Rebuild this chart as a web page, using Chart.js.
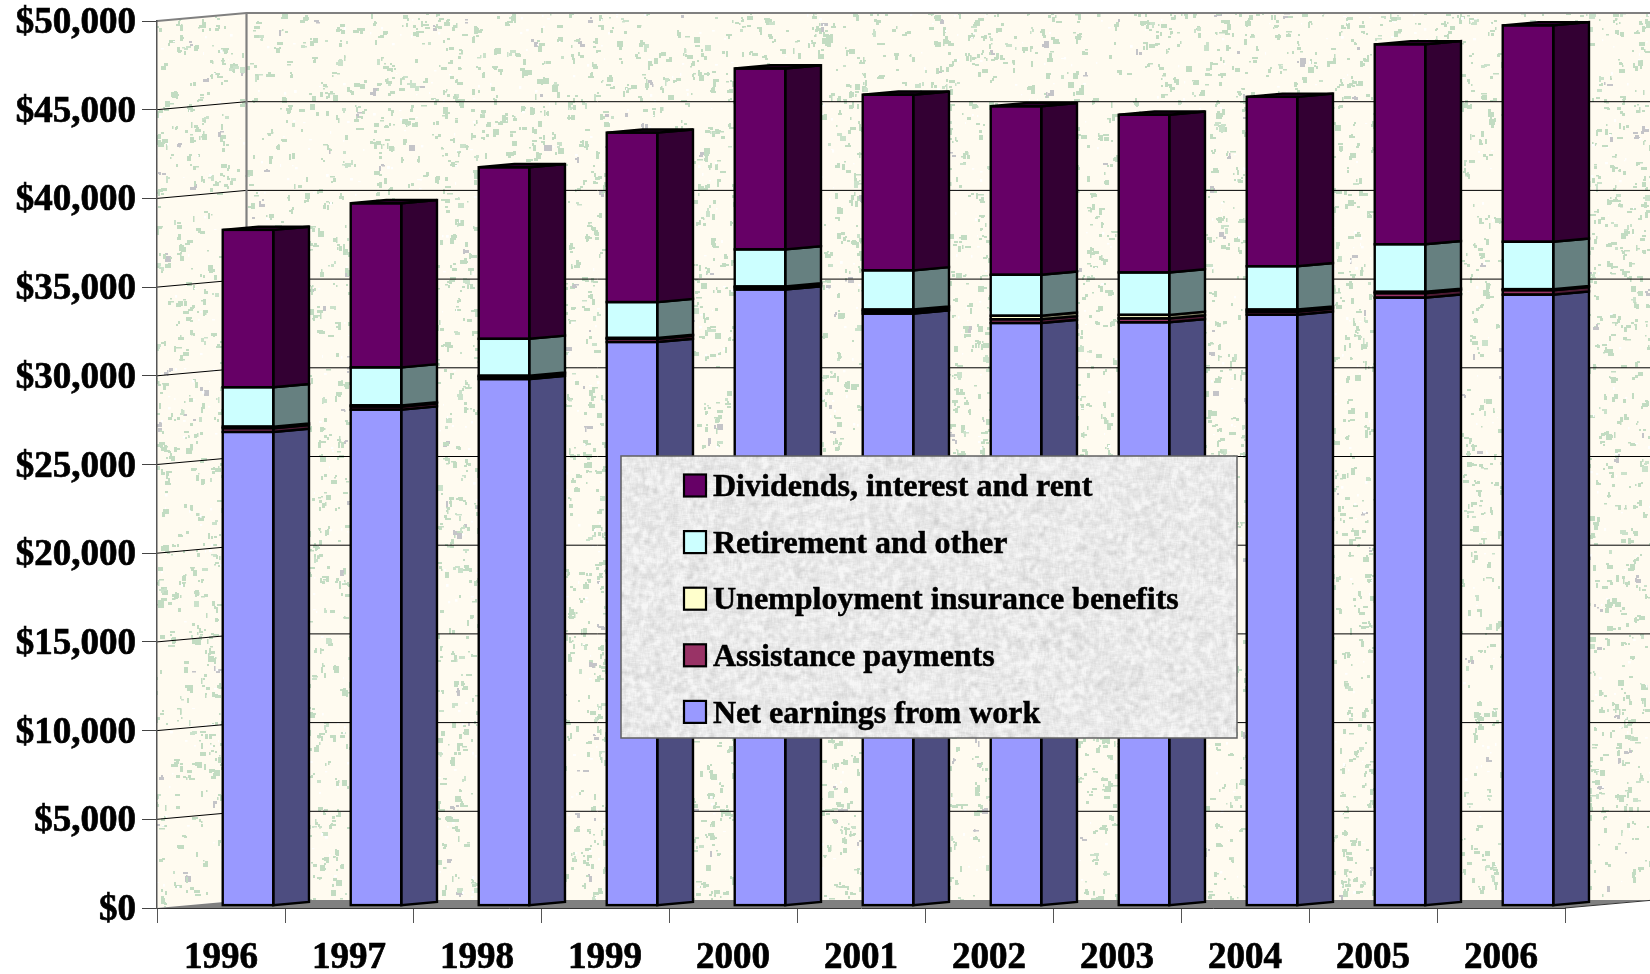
<!DOCTYPE html>
<html>
<head>
<meta charset="utf-8">
<script src="https://cdn.jsdelivr.net/npm/chart.js@4/dist/chart.umd.js"></script>
<style>html,body{margin:0;padding:0;background:#fff}canvas{display:block}</style>
</head>
<body>
<canvas id="c" width="1650" height="974"></canvas>
<script>
const years = ['1996','1997','1998','1999','2000','2001','2002','2003','2004','2005','2006'];
const netEarnings = [26700,27960,29680,31770,34730,33370,32840,32880,33310,34270,34440];
const assistance  = [210,170,130,180,120,130,210,220,170,250,250];
const unemployment= [90,70,60,50,50,100,200,200,120,80,60];
const retirement  = [2220,2140,2080,2020,2090,2210,2310,2390,2440,2680,2670];
const dividends   = [8870,9250,9670,9550,10200,9900,9500,8890,9550,11270,12200];
const seriesNames = ['Net earnings from work','Assistance payments','Unemployment insurance benefits','Retirement and other','Dividends, interest and rent'];
const frontColors = ['#9999FF','#993366','#FFFFCC','#CCFFFF','#660066'];
const sideColors  = ['#4D4D80','#4D1A33','#808066','#668080','#330033'];
const seriesValues = [netEarnings,assistance,unemployment,retirement,dividends];

// 3-D box geometry of the picture (pixels)
const WALL_DX = 89.5, WALL_DY = -8;      // front of floor -> back wall
const BAR_DX = 27, BAR_DY = -2.4;        // front of floor -> front of bars
const SIDE_DX = 35.7, SIDE_DY = -3.2;    // bar front -> bar back

// deterministic texture helper (decoration only)
function prng(seed){return function(){seed|=0;seed=seed+0x6D2B79F5|0;let t=Math.imul(seed^seed>>>15,1|seed);t=t+Math.imul(t^t>>>7,61|t)^t;return((t^t>>>14)>>>0)/4294967296;};}

function wallTexture(w,h){
  const cv=document.createElement('canvas');cv.width=w;cv.height=h;
  const g=cv.getContext('2d'),r=prng(20061996);
  g.fillStyle='#FFFBF0';g.fillRect(0,0,w,h);
  const sizes=[1.5,2,2,2,3,3,3,4,5,6];
  for(let i=0;i<9000;i++){
    let x=r()*w,y=r()*h;
    const t=r();
    g.fillStyle=t<0.06?'#C4C4C8':(t<0.16?'#CBE2CB':'#C2DCC2');
    const n=1+Math.floor(r()*3);
    for(let k=0;k<n;k++){
      const a=sizes[Math.floor(r()*sizes.length)],b=sizes[Math.floor(r()*sizes.length)];
      g.fillRect(Math.round(x),Math.round(y),a,b);
      x+=(r()-0.5)*7;y+=(r()-0.5)*7;
    }
  }
  g.fillStyle='#FFFFFF';
  for(let i=0;i<2200;i++){g.fillRect(Math.round(r()*w),Math.round(r()*h),1+r()*2,1+r()*2);}
  return cv;
}
function graniteTexture(w,h){
  const cv=document.createElement('canvas');cv.width=w;cv.height=h;
  const g=cv.getContext('2d'),r=prng(4242),img=g.createImageData(w,h);
  const n=new Float32Array(w*h);for(let i=0;i<n.length;i++)n[i]=r();
  const R=2;
  for(let y=0;y<h;y++)for(let x=0;x<w;x++){
    let s=0,c=0;
    for(let dy=-R;dy<=R;dy++)for(let dx=-R;dx<=R;dx++){
      const X=x+dx,Y=y+dy;if(X<0||Y<0||X>=w||Y>=h)continue;s+=n[Y*w+X];c++;
    }
    const v=Math.max(205,Math.min(246,233+(s/c-0.5)*115));
    const p=(y*w+x)*4;img.data[p]=img.data[p+1]=img.data[p+2]=v;img.data[p+3]=255;
  }
  g.putImageData(img,0,0);return cv;
}
const wallTex=wallTexture(1650,974);
const LEG={x:621,y:456,w:616,h:282,markX:684,markW:22,textX:713,firstY:486.5,textDy:1.5,step:56.6};
const legendTex=graniteTexture(LEG.w,Math.ceil(LEG.h));

const box3d={
  id:'box3d',
  beforeDraw(chart){
    const c=chart.ctx,{x:xs,y:ys}=chart.scales;
    const L=xs.left,R=xs.right,B=ys.bottom,T=ys.top,W=chart.width;
    const bx=L+WALL_DX;
    c.save();
    // side wall + back wall
    c.beginPath();c.moveTo(L,T);c.lineTo(bx,T+WALL_DY);c.lineTo(W,T+WALL_DY);c.lineTo(W,B+WALL_DY);c.lineTo(bx,B+WALL_DY);c.lineTo(L,B);c.closePath();
    c.save();c.clip();c.drawImage(wallTex,0,0);c.restore();
    // floor
    c.fillStyle='#808080';
    c.beginPath();c.moveTo(L,B);c.lineTo(bx,B+WALL_DY);c.lineTo(W,B+WALL_DY);c.lineTo(R,B);c.closePath();c.fill();
    c.strokeStyle='#333';c.lineWidth=1;
    c.beginPath();c.moveTo(R,B);c.lineTo(R+WALL_DX,B+WALL_DY);c.stroke();
    // gridlines on both walls
    c.strokeStyle='#000';c.lineWidth=1;
    ys.ticks.forEach(t=>{
      if(t.value===0||t.value===ys.max)return;
      const y=ys.getPixelForValue(t.value);
      c.beginPath();c.moveTo(L,y);c.lineTo(bx,y+WALL_DY);c.lineTo(W,y+WALL_DY);c.stroke();
    });
    // wall edges
    c.strokeStyle='#808080';c.lineWidth=2.2;
    c.beginPath();c.moveTo(L,T);c.lineTo(bx,T+WALL_DY);c.lineTo(W,T+WALL_DY);c.stroke();
    c.beginPath();c.moveTo(bx,T+WALL_DY);c.lineTo(bx,B+WALL_DY);c.stroke();
    c.restore();
  },
  beforeDatasetsDraw(chart){
    chart.ctx.save();chart.ctx.translate(BAR_DX,BAR_DY);
  },
  afterDatasetsDraw(chart){
    const c=chart.ctx,last=chart.data.datasets.length-1;
    c.lineWidth=2.4;c.strokeStyle='#000';c.lineJoin='miter';
    chart.data.datasets.forEach((ds,i)=>{
      chart.getDatasetMeta(i).data.forEach(bar=>{
        const l=bar.x-bar.width/2,r=bar.x+bar.width/2,t=bar.y,b=bar.base;
        c.fillStyle=sideColors[i];
        c.beginPath();c.moveTo(r,t);c.lineTo(r+SIDE_DX,t+SIDE_DY);c.lineTo(r+SIDE_DX,b+SIDE_DY);c.lineTo(r,b);c.closePath();c.fill();c.stroke();
        if(i===last){
          c.beginPath();c.moveTo(l,t);c.lineTo(l+SIDE_DX,t+SIDE_DY);c.lineTo(r+SIDE_DX,t+SIDE_DY);c.lineTo(r,t);c.closePath();c.fill();c.stroke();
        }
        c.strokeRect(l,t,r-l,b-t);
      });
    });
    c.restore();
  },
  afterDraw(chart){
    const c=chart.ctx;
    c.save();
    c.drawImage(legendTex,LEG.x,LEG.y);
    c.strokeStyle='#606060';c.lineWidth=1.5;c.strokeRect(LEG.x,LEG.y,LEG.w,LEG.h);
    c.font='bold 32px "Liberation Serif"';c.textBaseline='middle';c.textAlign='left';
    for(let k=0;k<seriesNames.length;k++){
      const i=seriesNames.length-1-k,y=LEG.firstY+k*LEG.step;
      c.fillStyle=frontColors[i];c.fillRect(LEG.markX,y-12,LEG.markW,LEG.markW);
      c.strokeStyle='#000';c.lineWidth=2.2;c.strokeRect(LEG.markX,y-12,LEG.markW,LEG.markW);
      c.fillStyle='#000';c.strokeStyle='#000';c.lineWidth=0.5;
      c.fillText(seriesNames[i],LEG.textX,y+LEG.textDy);c.strokeText(seriesNames[i],LEG.textX,y+LEG.textDy);
    }
    c.restore();
  }
};
function noPad(s){s.paddingTop=0;s.paddingBottom=0;s.paddingLeft=0;s.paddingRight=0;}

new Chart(document.getElementById('c'),{
  type:'bar',
  data:{labels:years,datasets:seriesNames.map((n,i)=>({label:n,data:seriesValues[i],backgroundColor:frontColors[i],borderWidth:0,inflateAmount:0,clip:false}))},
  options:{
    responsive:false,animation:false,
    layout:{padding:{top:21,right:85,left:0,bottom:0}},
    categoryPercentage:1,barPercentage:0.395,
    plugins:{legend:{display:false},tooltip:{enabled:false},title:{display:false}},
    scales:{
      x:{stacked:true,
        afterFit(s){s.height=66;noPad(s);},
        border:{display:true,color:'#333',width:1},
        grid:{display:true,offset:true,drawOnChartArea:false,drawTicks:true,tickLength:15,color:'#555',tickWidth:1},
        ticks:{color:'#000',font:{family:'"Liberation Serif"',weight:'bold',size:37},maxRotation:0,autoSkip:false,padding:13,textStrokeWidth:0.7,textStrokeColor:'#000'}
      },
      y:{stacked:true,min:0,max:50000,
        afterFit(s){s.width=157;noPad(s);},
        border:{display:true,color:'#555',width:1.5},
        grid:{display:true,drawOnChartArea:false,drawTicks:true,tickLength:15,color:'#444',tickWidth:1},
        ticks:{color:'#000',stepSize:5000,padding:6,labelOffset:2.5,textStrokeWidth:0.7,textStrokeColor:'#000',font:{family:'"Liberation Serif"',weight:'bold',size:37},
          callback(v){return '$'+v.toLocaleString('en-US');}}
      }
    }
  },
  plugins:[box3d]
});
</script>
</body>
</html>
